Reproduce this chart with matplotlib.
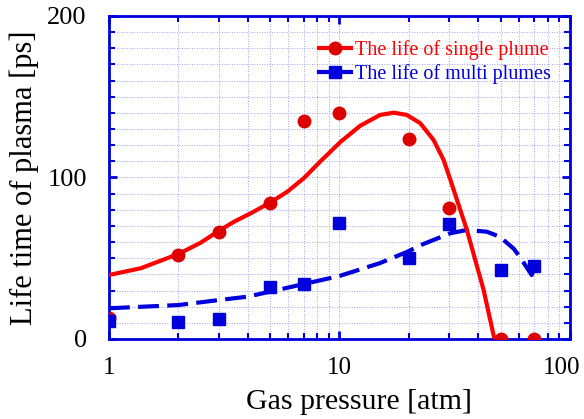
import matplotlib.pyplot as plt
from matplotlib.ticker import FixedLocator, NullFormatter, MultipleLocator, LogLocator
from matplotlib.transforms import ScaledTranslation

plt.rcParams["font.family"] = ["Liberation Serif", "DejaVu Serif"]

# measured lifetimes
pressure = [1, 2, 3, 5, 7, 10, 20, 30, 50, 70]
life_single = [13, 52, 66, 84, 135, 140, 124, 81, 0, 0]
life_multi = [11, 10.5, 12.4, 32, 34, 72, 50, 71, 43, 45]

# fitted trend lines
fit_single_x = [1, 1.375, 2, 2.5, 3, 3.49, 4.12, 5, 5.94, 7, 8.27, 10.1, 12.3,
                15, 17.2, 19.6, 22.4, 25.6, 28.3, 30.2, 35.7, 42.2, 47, 50]
fit_single_y = [39.6, 43.8, 52.6, 59.6, 67, 72.6, 77.8, 84.4, 91.2, 99.5, 110, 122, 132,
                138.7, 140.1, 138.7, 133.6, 123.2, 110.8, 99, 67.5, 30.3, 0, -20]
fit_multi_x = [1, 2, 3, 4, 5, 7, 10, 15, 19.7, 22.4, 30.2, 35.7, 43.6, 49.6, 56.9,
               60.5, 68.2, 71.7]
fit_multi_y = [19, 21, 24.1, 26.2, 29.3, 34, 39, 47, 54, 58, 65.4, 67.5, 66.4, 63.3, 56,
               51, 39.6, 46.9]

RED = "#ff0000"
BLUE = "#0000dd"

fig = plt.figure(figsize=(5.84, 4.19), dpi=100)
ax = fig.add_axes([0.1866, 0.191, 0.7894, 0.771])

ax.plot(fit_multi_x, fit_multi_y, color=BLUE, lw=3, dashes=(5, 2), zorder=3)
ax.plot(fit_single_x, fit_single_y, color=RED, lw=3, zorder=4, solid_joinstyle="round")
ax.plot(pressure, life_single, "o", color="#dd0000", ms=9, zorder=5)
ax.plot(pressure, life_multi, "s", color=BLUE, ms=9, zorder=6)

# legend handles: line with marker
h1, = ax.plot([], [], "-o", color=RED, lw=3, ms=9, mfc="#dd0000", mec="#dd0000")
h2, = ax.plot([], [], "-s", color=BLUE, lw=3, ms=8)
leg = ax.legend([h1, h2], ["The life of single plume", "The life of multi plumes"],
                loc="upper right", frameon=False, fontsize=14.5, handlelength=1.6,
                handletextpad=0.2, borderaxespad=0.3, labelspacing=0.2,
                bbox_to_anchor=(0.989, 0.97))
leg.get_texts()[0].set_color(RED)
leg.get_texts()[1].set_color(BLUE)

ax.set_xscale("log")
ax.set_xlim(1, 100)
ax.set_ylim(0, 200)
ax.xaxis.set_major_locator(FixedLocator([1, 10, 100]))
ax.xaxis.set_minor_locator(LogLocator(base=10, subs=range(2, 10)))
ax.xaxis.set_minor_formatter(NullFormatter())
ax.set_xticklabels(["1", "10", "100"])
ax.yaxis.set_major_locator(FixedLocator([0, 100, 200]))
ax.yaxis.set_minor_locator(MultipleLocator(10))

ax.grid(True, which="both", color="#6666ee", lw=0.6, linestyle=(0, (1, 2)), alpha=0.8)
ax.set_axisbelow(True)

for s in ax.spines.values():
    s.set_color(BLUE)
    s.set_linewidth(2)
ax.tick_params(which="both", direction="in", top=True, right=True, color=BLUE,
               labelsize=19)
ax.tick_params(axis="x", labelsize=18, pad=13)
ax.tick_params(axis="y", pad=16)
ax.tick_params(which="major", length=6, width=2)
ax.tick_params(which="minor", length=4, width=1.5)

# the last x label sits a little inside the frame
for lab in ax.get_xticklabels():
    if lab.get_text() == "100":
        lab.set_transform(lab.get_transform() + ScaledTranslation(-0.085, 0, fig.dpi_scale_trans))

ax.set_xlabel("Gas pressure [atm]", fontsize=21.5, labelpad=7)
ax.xaxis.label.set_x(0.543)
ax.set_ylabel("Life time of plasma [ps]", fontsize=22, labelpad=6)

fig.savefig("out.png", dpi=100)
